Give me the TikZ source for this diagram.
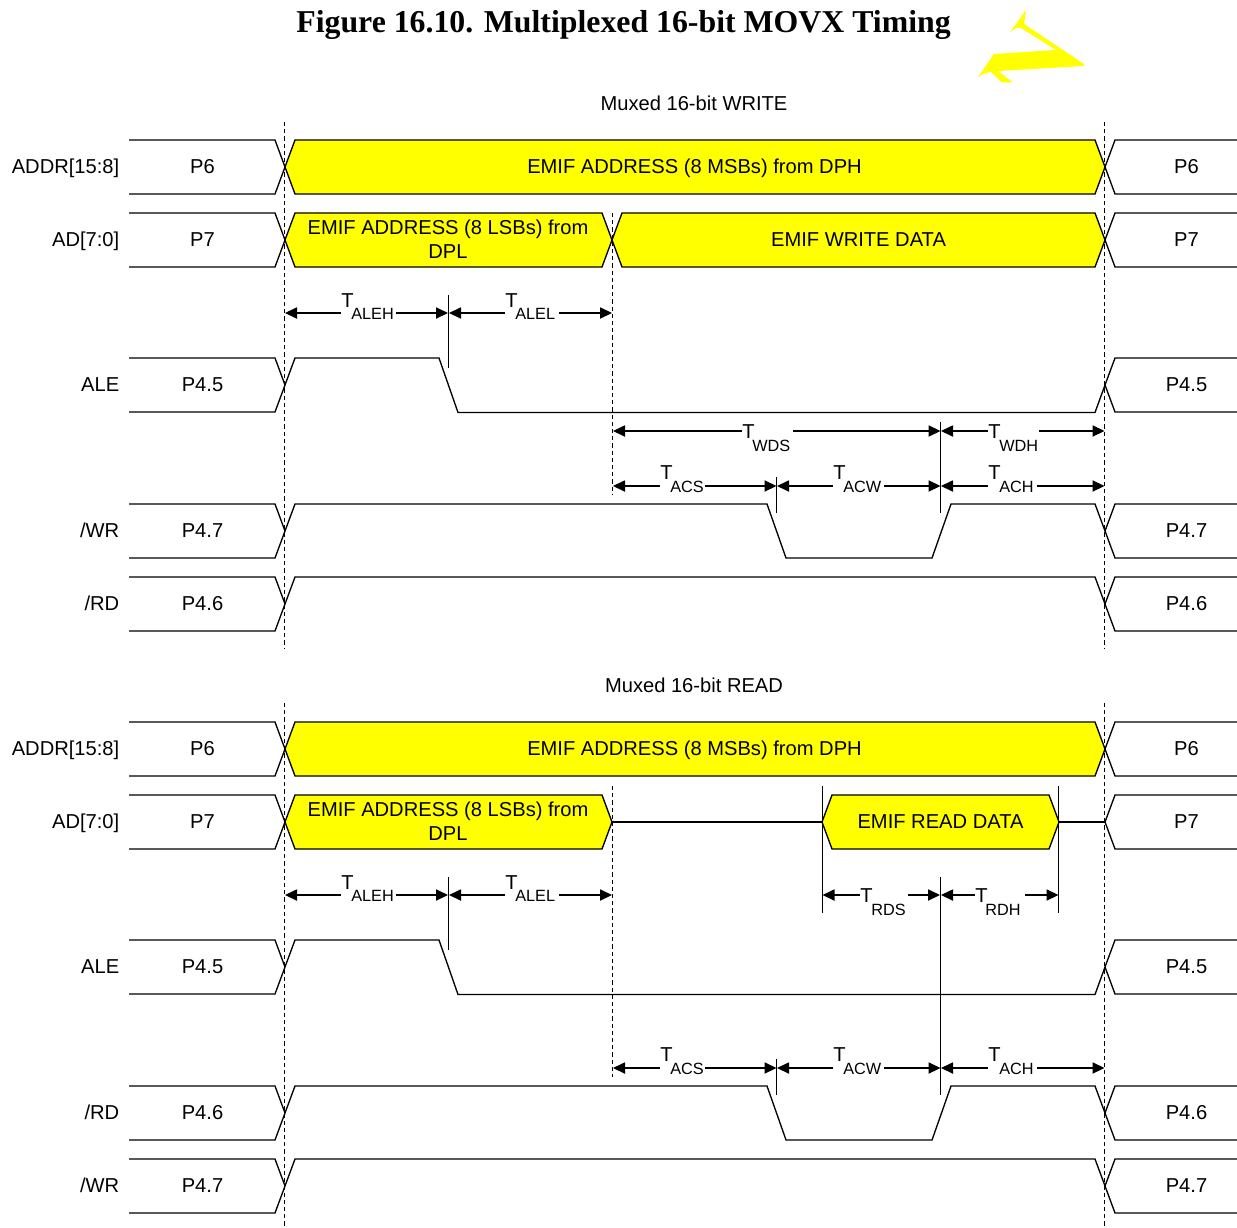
\documentclass[tikz,border=0pt]{standalone}
\usepackage{fontspec}
\setmainfont{Liberation Sans}
\newfontfamily\titlefont{Liberation Serif}
\usetikzlibrary{arrows.meta}
\definecolor{busyellow}{RGB}{255,255,0}
\tikzset{
  wave/.style={draw=black,line width=1pt,line join=miter},
  bus/.style={wave,fill=busyellow},
  guide/.style={draw=black,line width=0.8pt,dash pattern=on 3.2pt off 2.2pt},
  tick/.style={draw=black,line width=1pt},
  span/.style={draw=black,line width=0.85pt,-{Triangle[length=9pt,width=8.4pt]}},
  lbl/.style={inner sep=0pt,font=\fontsize{15.1}{18}\selectfont,text=black},
  sublbl/.style={inner sep=0pt,font=\fontsize{12.2}{14}\selectfont,text=black,anchor=west},
  tlbl/.style={inner sep=0pt,font=\fontsize{15.1}{18}\selectfont,text=black,anchor=west}
}
% name, left name, left text, top y, right text
\newcommand{\sigrow}[5]{%
  \draw[wave] (129,#4) -- (275,#4) -- (285,#4+27) -- (275,#4+54) -- (129,#4+54);
  \draw[wave] (1237,#4) -- (1115,#4) -- (1105,#4+27) -- (1115,#4+54) -- (1237,#4+54);
  \node[lbl,anchor=base east] (#1n) at (119.5,#4+33.5) {#2};
  \node[lbl,anchor=base] (#1l) at (202.5,#4+33.5) {#3};
  \node[lbl,anchor=base] (#1r) at (1186.5,#4+33.5) {#5};
}
% name, x1, x2, y, gap1, gap2, T y, sub x, sub y
\newcommand{\spansub}{}
\newcommand{\spanlab}[9]{%
  \coordinate (#1a) at (#2,#4); \coordinate (#1b) at (#3,#4);
  \coordinate (#1c) at (#5,#4); \coordinate (#1d) at (#6,#4);
  \draw[span] (#1c) -- (#1a);
  \draw[span] (#1d) -- (#1b);
  \node[tlbl] (#1t) at (#5,#7) {T};
  \node[sublbl] (#1s) at (#8,#9) {\spansub};
}
\begin{document}
\begin{tikzpicture}[x=0.75pt,y=-0.75pt]
\useasboundingbox (0,0) rectangle (1237,1227);

% title and mark
\node[inner sep=0pt,font=\titlefont\bfseries\fontsize{23.85}{28}\selectfont] (title) at (623.5,25) {Figure 16.10. Multiplexed 16-bit MOVX Timing};
\fill[busyellow] (1026,10) -- (1025,18) -- (1024,24) -- (1084,64) -- (1084,66) -- (998,71) -- (1013,82.5) -- (1002,82.5) -- (991,72) -- (985,73) -- (978,77) -- (994,54) -- (1056,50) -- (1021,28) -- (1016,28) -- (1010,32) -- (1016,24) -- cycle;
\node[lbl] (wtitle) at (694,103) {Muxed 16-bit WRITE};
\node[lbl] (rtitle) at (694,685) {Muxed 16-bit READ};

% yellow buses, write
\draw[bus] (285,167) -- (295,140) -- (1095,140) -- (1105,167) -- (1095,194) -- (295,194) -- cycle;
\draw[bus] (285,240) -- (295,213) -- (602,213) -- (612,240) -- (602,267) -- (295,267) -- cycle;
\draw[bus] (612,240) -- (622,213) -- (1095,213) -- (1105,240) -- (1095,267) -- (622,267) -- cycle;
% yellow buses, read
\draw[bus] (285,749) -- (295,722) -- (1095,722) -- (1105,749) -- (1095,776) -- (295,776) -- cycle;
\draw[bus] (285,822) -- (295,795) -- (602,795) -- (612,822) -- (602,849) -- (295,849) -- cycle;
\draw[bus] (822,822) -- (832,795) -- (1049,795) -- (1059,822) -- (1049,849) -- (832,849) -- cycle;
\draw[wave] (612,822) -- (822,822);
\draw[wave] (1059,822) -- (1105,822);

\node[lbl] (busa) at (694.5,168) {EMIF ADDRESS (8 MSBs) from DPH};
\node[lbl,align=center] (busb) at (448,239.5) {EMIF ADDRESS (8 LSBs) from\\DPL};
\node[lbl] (busc) at (858.5,239.5) {EMIF WRITE DATA};
\node[lbl] (busd) at (694.5,750) {EMIF ADDRESS (8 MSBs) from DPH};
\node[lbl,align=center] (buse) at (448,821.5) {EMIF ADDRESS (8 LSBs) from\\DPL};
\node[lbl] (busf) at (940.5,821.5) {EMIF READ DATA};

% signal rows
\sigrow{wa}{ADDR[15:8]}{P6}{140}{P6}
\sigrow{wb}{AD[7:0]}{P7}{213}{P7}
\sigrow{wc}{ALE}{P4.5}{358}{P4.5}
\sigrow{wd}{/WR}{P4.7}{504}{P4.7}
\sigrow{we}{/RD}{P4.6}{577}{P4.6}
\sigrow{ra}{ADDR[15:8]}{P6}{722}{P6}
\sigrow{rb}{AD[7:0]}{P7}{795}{P7}
\sigrow{rc}{ALE}{P4.5}{940}{P4.5}
\sigrow{rd}{/RD}{P4.6}{1086}{P4.6}
\sigrow{re}{/WR}{P4.7}{1159}{P4.7}

% waveforms
\draw[wave] (285,385) -- (295,358) -- (439,358) -- (458,412.5) -- (1095,412.5) -- (1105,385);
\draw[wave] (285,531) -- (295,504) -- (767,504) -- (786,558) -- (932,558) -- (951,504) -- (1095,504) -- (1105,531);
\draw[wave] (285,604) -- (295,577) -- (1095,577) -- (1105,604);
\draw[wave] (285,967) -- (295,940) -- (439,940) -- (458,994.5) -- (1095,994.5) -- (1105,967);
\draw[wave] (285,1113) -- (295,1086) -- (767,1086) -- (786,1140) -- (932,1140) -- (951,1086) -- (1095,1086) -- (1105,1113);
\draw[wave] (285,1186) -- (295,1159) -- (1095,1159) -- (1105,1186);

% dashed guides
\draw[guide] (284.5,122) -- (284.5,649);
\draw[guide] (1104.5,122) -- (1104.5,649);
\draw[guide] (612.5,213) -- (612.5,494);
\draw[guide] (284.5,703) -- (284.5,1227);
\draw[guide] (1104.5,703) -- (1104.5,1227);
\draw[guide] (612.5,786) -- (612.5,1077);

% solid ticks
\draw[tick] (448.5,295) -- (448.5,368);
\draw[tick] (940.5,422) -- (940.5,513);
\draw[tick] (776.5,477) -- (776.5,513);
\draw[tick] (448.5,877) -- (448.5,950);
\draw[tick] (940.5,877) -- (940.5,1095);
\draw[tick] (776.5,1059) -- (776.5,1095);
\draw[tick] (822.5,786) -- (822.5,913);
\draw[tick] (1058.7,786) -- (1058.7,913);

% timing spans
\renewcommand{\spansub}{ALEH}\spanlab{s1}{285}{448}{313}{341}{396}{301}{351}{314}
\renewcommand{\spansub}{ALEL}\spanlab{s2}{449}{612}{313}{505}{559}{301}{515}{314}
\renewcommand{\spansub}{WDS}\spanlab{s3}{613}{940.5}{431}{742}{793}{432}{752}{446}
\renewcommand{\spansub}{WDH}\spanlab{s4}{941}{1104.5}{431}{988}{1039}{432}{999}{446}
\renewcommand{\spansub}{ACS}\spanlab{s5}{613}{776.5}{486}{660}{705}{473}{670}{487}
\renewcommand{\spansub}{ACW}\spanlab{s6}{777}{940.5}{486}{833}{884}{473}{843}{487}
\renewcommand{\spansub}{ACH}\spanlab{s7}{941}{1104.5}{486}{988}{1037}{473}{999}{487}
\renewcommand{\spansub}{ALEH}\spanlab{s8}{285}{448}{895}{341}{396}{883}{351}{896}
\renewcommand{\spansub}{ALEL}\spanlab{s9}{449}{612}{895}{505}{559}{883}{515}{896}
\renewcommand{\spansub}{RDS}\spanlab{s10}{822.5}{940}{895}{860}{908}{896}{871}{910}
\renewcommand{\spansub}{RDH}\spanlab{s11}{941}{1058.5}{895}{975}{1025}{896}{985}{910}
\renewcommand{\spansub}{ACS}\spanlab{s12}{613}{776.5}{1068}{660}{705}{1055}{670}{1069}
\renewcommand{\spansub}{ACW}\spanlab{s13}{777}{940.5}{1068}{833}{884}{1055}{843}{1069}
\renewcommand{\spansub}{ACH}\spanlab{s14}{941}{1104.5}{1068}{988}{1037}{1055}{999}{1069}
\end{tikzpicture}
\end{document}
